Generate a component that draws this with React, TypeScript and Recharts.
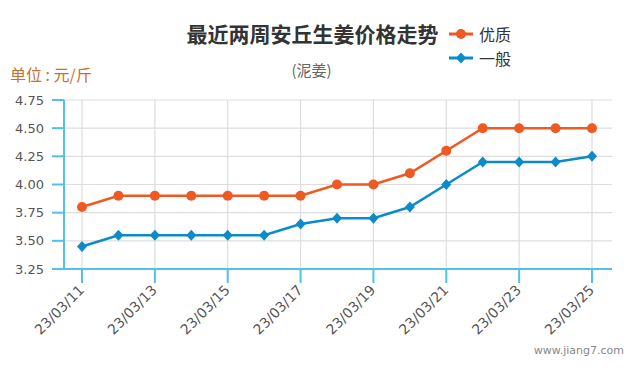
import React from 'react';
import { LineChart, Line, XAxis, YAxis, CartesianGrid, ReferenceLine } from 'recharts';

const dates = [
  '23/03/11', '23/03/12', '23/03/13', '23/03/14', '23/03/15', '23/03/16', '23/03/17', '23/03/18',
  '23/03/19', '23/03/20', '23/03/21', '23/03/22', '23/03/23', '23/03/24', '23/03/25',
];
const premium = [3.8, 3.9, 3.9, 3.9, 3.9, 3.9, 3.9, 4.0, 4.0, 4.1, 4.3, 4.5, 4.5, 4.5, 4.5];
const normal = [3.45, 3.55, 3.55, 3.55, 3.55, 3.55, 3.65, 3.7, 3.7, 3.8, 4.0, 4.2, 4.2, 4.2, 4.25];
const xTicks = ['23/03/11', '23/03/13', '23/03/15', '23/03/17', '23/03/19', '23/03/21', '23/03/23', '23/03/25'];
const yTicks = [3.25, 3.5, 3.75, 4.0, 4.25, 4.5, 4.75];

const data = dates.map((d, i) => ({ date: d, premium: premium[i], normal: normal[i] }));

const ORANGE = '#ee5a22';
const BLUE = '#0b8bca';
const AXIS = '#4fc1ea';
const GRID = '#dddddd';
const NUM_FONT = '"DejaVu Sans", Verdana, sans-serif';
const CJK_FONT = '"Noto Sans CJK SC", "Noto Sans", sans-serif';

const Diamond = (props: any) => {
  const { cx, cy, index } = props;
  if (cx == null || cy == null) return <g key={index} />;
  return (
    <path
      key={index}
      d={`M${cx},${cy - 5.5}L${cx + 5},${cy}L${cx},${cy + 5.5}L${cx - 5},${cy}Z`}
      fill={BLUE}
    />
  );
};

const XTick = (props: any) => {
  const { x, y, payload } = props;
  return (
    <text
      x={x + 3}
      y={y + 6}
      textAnchor="end"
      fill="#555"
      fontSize={14}
      fontFamily={NUM_FONT}
      transform={`rotate(-45, ${x + 3}, ${y + 6})`}
    >
      {payload.value}
    </text>
  );
};

export default function App() {
  return (
    <div style={{ position: 'absolute', left: 0, top: 0, width: 635, height: 375, background: '#fff' }}>
      <div
        style={{
          position: 'absolute', left: 0, width: 625, top: 19, textAlign: 'center',
          fontFamily: CJK_FONT, fontWeight: 'bold', fontSize: 21, color: '#333', lineHeight: '28px',
        }}
      >
        最近两周安丘生姜价格走势
      </div>
      <div
        style={{
          position: 'absolute', left: 0, width: 623, top: 60, textAlign: 'center',
          fontFamily: CJK_FONT, fontSize: 15, color: '#666', lineHeight: '20px',
        }}
      >
        (泥姜)
      </div>
      <div
        style={{
          position: 'absolute', left: 10, top: 63, fontFamily: CJK_FONT, fontSize: 16,
          color: '#c8702f', lineHeight: '22px',
        }}
      >
        单位 : 元/斤
      </div>
      <div style={{ position: 'absolute', left: 449, top: 22, fontFamily: CJK_FONT, fontSize: 16, color: '#333' }}>
        <div style={{ display: 'flex', alignItems: 'center', height: 24 }}>
          <svg width={24} height={12} style={{ marginRight: 6 }}>
            <line x1={0} y1={6} x2={24} y2={6} stroke={ORANGE} strokeWidth={3} />
            <circle cx={12} cy={6} r={5} fill={ORANGE} />
          </svg>
          优质
        </div>
        <div style={{ display: 'flex', alignItems: 'center', height: 24 }}>
          <svg width={24} height={12} style={{ marginRight: 6 }}>
            <line x1={0} y1={6} x2={24} y2={6} stroke={BLUE} strokeWidth={3} />
            <path d="M12,0.5L17,6L12,11.5L7,6Z" fill={BLUE} />
          </svg>
          一般
        </div>
      </div>
      <div
        style={{
          position: 'absolute', right: 11, top: 344, fontFamily: NUM_FONT, fontSize: 11, color: '#888',
        }}
      >
        www.jiang7.com
      </div>
      <div style={{ position: 'absolute', left: 0, top: 0 }}>
        <LineChart width={635} height={375} data={data} margin={{ top: 100, right: 23, bottom: 36, left: 0 }}>
          <CartesianGrid stroke={GRID} strokeWidth={1.2} vertical={false} />
          {xTicks.map((t) => (
            <ReferenceLine key={t} x={t} stroke={GRID} strokeWidth={1.2} />
          ))}
          <XAxis
            dataKey="date"
            ticks={xTicks}
            interval={0}
            padding={{ left: 18, right: 20 }}
            stroke={AXIS}
            strokeWidth={2}
            tickSize={14}
            tickMargin={2}
            height={70}
            tick={<XTick />}
          />
          <YAxis
            domain={[3.25, 4.75]}
            ticks={yTicks}
            interval={0}
            width={64}
            stroke={AXIS}
            strokeWidth={2}
            tickSize={12}
            tickMargin={8}
            tick={{ fill: '#555', fontSize: 13, fontFamily: NUM_FONT }}
            tickFormatter={(v: number) => v.toFixed(2)}
          />
          <Line
            dataKey="premium"
            stroke={ORANGE}
            strokeWidth={2.5}
            dot={{ r: 5, fill: ORANGE, stroke: ORANGE, strokeWidth: 0 }}
            activeDot={false}
            isAnimationActive={false}
          />
          <Line
            dataKey="normal"
            stroke={BLUE}
            strokeWidth={2.5}
            dot={<Diamond />}
            activeDot={false}
            isAnimationActive={false}
          />
        </LineChart>
      </div>
    </div>
  );
}
